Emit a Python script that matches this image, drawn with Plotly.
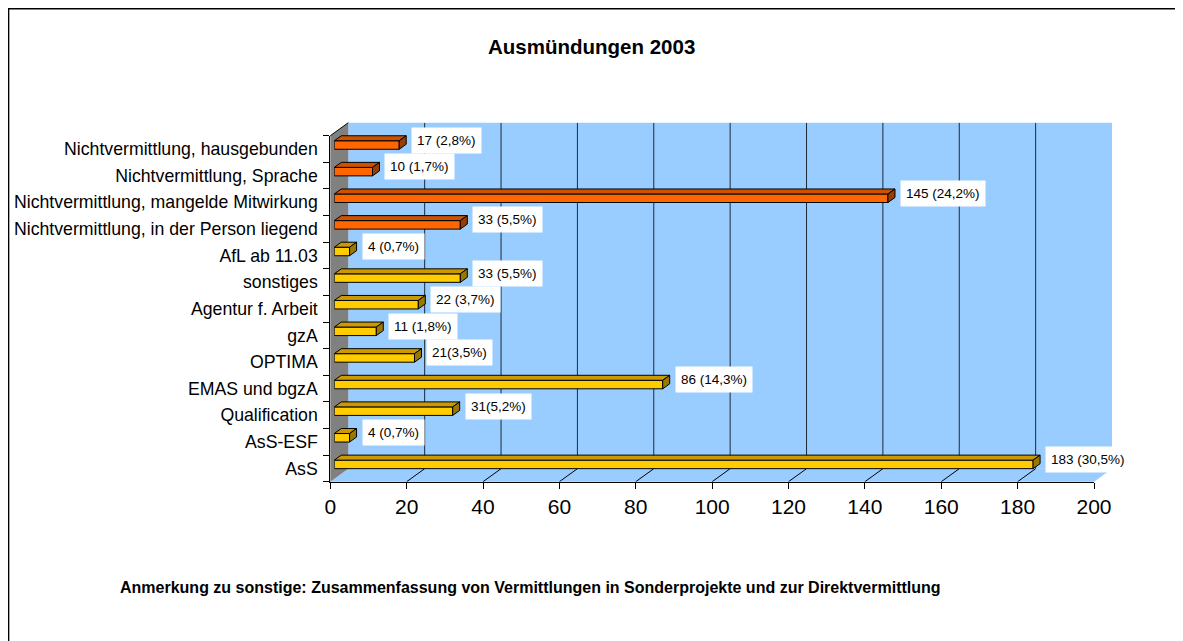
"""Ausmündungen 2003 - horizontal 3D-style bar chart."""

import plotly.graph_objects as go

# the page body has an 8px margin, so the figure is shifted by it
OFF = 8
W, H = 1183 - OFF, 641 - OFF

# data (bottom to top)
categories = [
    "AsS", "AsS-ESF", "Qualification", "EMAS und bgzA", "OPTIMA", "gzA",
    "Agentur f. Arbeit", "sonstiges", "AfL ab 11.03",
    "Nichtvermittlung, in der Person liegend",
    "Nichtvermittlung, mangelde Mitwirkung",
    "Nichtvermittlung, Sprache",
    "Nichtvermittlung, hausgebunden",
]
values = [183, 4, 31, 86, 21, 11, 22, 33, 4, 33, 145, 10, 17]
value_labels = [
    "183 (30,5%)", "4 (0,7%)", "31(5,2%)", "86 (14,3%)", "21(3,5%)", "11 (1,8%)",
    "22 (3,7%)", "33 (5,5%)", "4 (0,7%)", "33 (5,5%)", "145 (24,2%)",
    "10 (1,7%)", "17 (2,8%)",
]
x_ticks = [0, 20, 40, 60, 80, 100, 120, 140, 160, 180, 200]

FONT = "Arial, Liberation Sans, sans-serif"
WALL = "#99CCFF"
ORANGE = ("#FF6600", "#CC5200", "#993D00")
GOLD = ("#FFCC00", "#CC9900", "#997700")


def fx(px):
    return (px - OFF) / W


def fy(py):
    return 1 - (py - OFF) / H


# geometry (screen pixels)
X0, X1 = 330.3, 1094.0        # front axis 0..200
YT, YB = 135.7, 481.7         # front category axis top/bottom
DX, DY = 18, 13               # depth offset of back wall
BX, BY = 4, 4                 # bar front face offset
BAR_DX, BAR_DY = 7, 5         # bar depth
HALF = 0.16                   # bar half thickness (category units)

px_per_unit = (X1 - X0) / 200
px_per_cat = (YB - YT) / len(categories)
ddx = BAR_DX / px_per_unit
ddy = BAR_DY / px_per_cat

fig = go.Figure()

# back wall gridlines
gx, gy = [], []
for t in x_ticks[1:-1]:
    gx += [t, t, None]
    gy += [0, 1, None]
fig.add_trace(go.Scatter(x=gx, y=gy, mode="lines", line=dict(color="#1c2a3a", width=1),
                         hoverinfo="skip", showlegend=False, xaxis="x2", yaxis="y2"))

# floor diagonals from front ticks to back wall
fx_l, fy_l = [], []
for t in x_ticks[1:-1]:
    fx_l += [t, t + DX / px_per_unit, None]
    fy_l += [-0.5, -0.5 + DY / px_per_cat, None]
fig.add_trace(go.Scatter(x=fx_l, y=fy_l, mode="lines", line=dict(color="#000", width=1),
                         hoverinfo="skip", showlegend=False, xaxis="x", yaxis="y"))

# 3D faces of bars
for idx_set, col in [
    ([i for i, c in enumerate(categories) if not c.startswith("Nicht")], GOLD),
    ([i for i, c in enumerate(categories) if c.startswith("Nicht")], ORANGE),
]:
    tx, ty, sx, sy = [], [], [], []
    for i in idx_set:
        v = values[i]
        tx += [0, v, v + ddx, ddx, 0, None]
        ty += [i + HALF, i + HALF, i + HALF + ddy, i + HALF + ddy, i + HALF, None]
        sx += [v, v + ddx, v + ddx, v, v, None]
        sy += [i - HALF, i - HALF + ddy, i + HALF + ddy, i + HALF, i - HALF, None]
    fig.add_trace(go.Scatter(x=tx, y=ty, mode="lines", fill="toself", fillcolor=col[1],
                             line=dict(color="#000", width=1), hoverinfo="skip",
                             showlegend=False, xaxis="x3", yaxis="y3"))
    fig.add_trace(go.Scatter(x=sx, y=sy, mode="lines", fill="toself", fillcolor=col[2],
                             line=dict(color="#000", width=1), hoverinfo="skip",
                             showlegend=False, xaxis="x3", yaxis="y3"))
    fig.add_trace(go.Bar(
        x=[values[i] for i in idx_set], y=idx_set, orientation="h", width=2 * HALF,
        marker=dict(color=col[0], line=dict(color="#000", width=1)),
        hovertemplate="%{x}<extra></extra>", showlegend=False,
        xaxis="x3", yaxis="y3",
    ))

# value labels
for i, (v, lab) in enumerate(zip(values, value_labels)):
    fig.add_annotation(
        x=v + ddx, y=i, xref="x3", yref="y3", text=lab, showarrow=False,
        xanchor="left", yanchor="middle", xshift=5, yshift=5,
        bgcolor="white", borderpad=5, font=dict(family=FONT, size=13.5, color="#000"),
    )

shapes = [
    # outer border (right and bottom edges lie outside the picture)
    dict(type="rect", xref="paper", yref="paper", x0=0.0005, x1=1.05, y0=-0.05, y1=0.999,
         line=dict(color="#000", width=1.5), fillcolor="rgba(0,0,0,0)", layer="below"),
    # back wall
    dict(type="rect", xref="paper", yref="paper", x0=fx(X0 + DX), x1=fx(X1 + DX),
         y0=fy(YB - DY), y1=fy(YT - DY), line=dict(width=0), fillcolor=WALL, layer="below"),
    # floor
    dict(type="path", xref="paper", yref="paper",
         path=f"M {fx(X0)} {fy(YB)} L {fx(X0 + DX)} {fy(YB - DY)} L {fx(X1 + DX)} {fy(YB - DY)} "
              f"L {fx(X1)} {fy(YB)} Z",
         line=dict(width=0), fillcolor=WALL, layer="below"),
    # side wall
    dict(type="path", xref="paper", yref="paper",
         path=f"M {fx(X0)} {fy(YT)} L {fx(X0 + DX)} {fy(YT - DY)} L {fx(X0 + DX)} {fy(YB - DY)} "
              f"L {fx(X0)} {fy(YB)} Z",
         line=dict(width=0), fillcolor="#808080", layer="below"),
    dict(type="line", xref="paper", yref="paper", x0=fx(X0), y0=fy(YT), x1=fx(X0 + DX),
         y1=fy(YT - DY), line=dict(color="#000", width=1)),
]

hidden = dict(visible=False, automargin=False)

fig.update_layout(
    width=W, height=H, autosize=False,
    margin=dict(l=0, r=0, t=0, b=0, pad=0),
    paper_bgcolor="white", plot_bgcolor="rgba(0,0,0,0)",
    showlegend=False, barmode="overlay",
    shapes=shapes,
    font=dict(family=FONT, color="#000"),
    # front axes
    xaxis=dict(domain=[fx(X0), fx(X1)], range=[0, 200], tickvals=x_ticks,
               ticks="outside", ticklen=6, tickcolor="#000", showline=True,
               linecolor="#000", linewidth=1, showgrid=False, zeroline=False,
               automargin=False,
               tickfont=dict(size=21, family=FONT, color="#000"), anchor="y"),
    yaxis=dict(domain=[fy(YB), fy(YT)], range=[-0.5, len(categories) - 0.5],
               tickvals=list(range(len(categories))), ticktext=categories, ticks="",
               minor=dict(tickvals=[k - 0.5 for k in range(len(categories) + 1)],
                          ticks="outside", ticklen=6, tickcolor="#000"),
               showline=True, linecolor="#000", linewidth=1, showgrid=False,
               zeroline=False, ticklabelstandoff=8, automargin=False,
               tickfont=dict(size=17.7, family=FONT, color="#000"), anchor="x"),
    # back wall
    xaxis2=dict(domain=[fx(X0 + DX), fx(X1 + DX)], range=[0, 200], anchor="y2", **hidden),
    yaxis2=dict(domain=[fy(YB - DY), fy(YT - DY)], range=[0, 1], anchor="x2", **hidden),
    # bars at mid depth
    xaxis3=dict(domain=[fx(X0 + BX), fx(X1 + BX)], range=[0, 200], anchor="y3", **hidden),
    yaxis3=dict(domain=[fy(YB - BY), fy(YT - BY)], range=[-0.5, len(categories) - 0.5],
                anchor="x3", **hidden),
)

fig.add_annotation(text="<b>Ausmündungen 2003</b>", xref="paper", yref="paper",
                   x=fx(591), y=fy(47), xanchor="center", yanchor="middle",
                   showarrow=False, font=dict(size=20.5, family=FONT, color="#000"))
fig.add_annotation(
    text="<b>Anmerkung zu sonstige: Zusammenfassung von Vermittlungen in Sonderprojekte "
         "und zur Direktvermittlung</b>",
    xref="paper", yref="paper", x=fx(118), y=fy(587), xanchor="left", yanchor="middle",
    showarrow=False, font=dict(size=16, family=FONT, color="#000"))

# no scrollbars: the figure runs to the window edges like the original
fig.write_html("out.html", post_script="document.body.style.overflow='hidden';")
